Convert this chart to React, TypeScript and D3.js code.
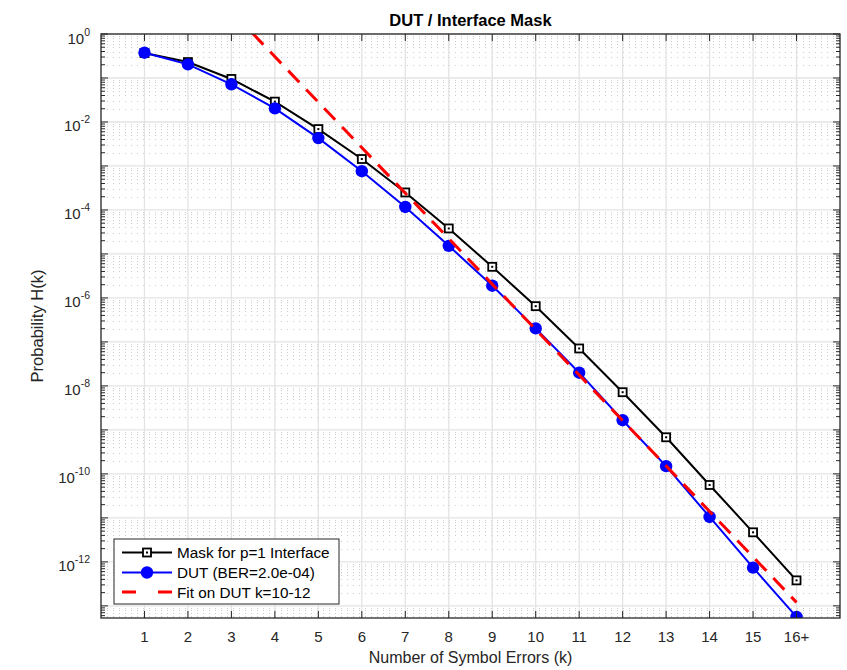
import React from 'react';
import * as d3 from 'd3';

// values
const kVals = [1, 2, 3, 4, 5, 6, 7, 8, 9, 10, 11, 12, 13, 14, 15, 16];
const kLabels = ['1', '2', '3', '4', '5', '6', '7', '8', '9', '10', '11', '12', '13', '14', '15', '16+'];
const maskVals = [0.37, 0.23, 0.095, 0.029, 0.0069, 1.44e-3, 2.5e-4, 3.8e-5, 5.1e-6, 6.5e-7, 7.1e-8, 7.2e-9, 6.8e-10, 5.6e-11, 4.7e-12, 3.8e-13];
const dutVals = [0.376, 0.204, 0.0718, 0.0204, 0.0043, 7.6e-4, 1.17e-4, 1.53e-5, 1.9e-6, 2.03e-7, 2.0e-8, 1.66e-9, 1.5e-10, 1.05e-11, 7.4e-13, 5.6e-14];
const fitK = [1, 16];
const fitVals = [385, 1.2e-13];
const yDecades = [0, -2, -4, -6, -8, -10, -12];
const legendNames = ['Mask for p=1 Interface', 'DUT (BER=2.0e-04)', 'Fit on DUT k=10-12'];

const width = 847;
const height = 670;
const margin = { top: 34, right: 7, bottom: 52, left: 101 };
const font = '"Liberation Sans", Arial, Helvetica, sans-serif';
const axisColor = '#262626';
const yMin = 5.3e-14;

export default function App() {
  const x = d3.scaleLinear().domain([0, 17]).range([margin.left, width - margin.right]);
  const y = d3.scaleLog().domain([yMin, 1]).range([height - margin.bottom, margin.top]);
  const [x0, x1] = x.range();
  const [yb, yt] = y.range();

  const line = d3
    .line<[number, number]>()
    .x(d => x(d[0]))
    .y(d => y(d[1]));

  const maskPts = kVals.map((k, i) => [k, maskVals[i]] as [number, number]);
  const dutPts = kVals.map((k, i) => [k, dutVals[i]] as [number, number]);
  const fitPts = fitK.map((k, i) => [k, fitVals[i]] as [number, number]);

  // log ticks: majors at every decade, minors 2..9
  const majors: number[] = [];
  const minors: number[] = [];
  for (let e = -14; e <= 0; e++) {
    for (let m = 1; m <= 9; m++) {
      const v = m * Math.pow(10, e);
      if (v < yMin || v > 1) continue;
      if (m === 1) majors.push(v);
      else minors.push(v);
    }
  }

  const legend = { x: 114, y: 539, w: 225, h: 65 };
  const rowY = [552.5, 572.5, 592];

  return (
    <svg
      width={width}
      height={height}
      style={{ position: 'absolute', left: 0, top: 0, background: '#fff' }}
      fontFamily={font}
    >
      <defs>
        <clipPath id="plot">
          <rect x={x0} y={yt} width={x1 - x0} height={yb - yt} />
        </clipPath>
      </defs>
      <rect x={x0} y={yt} width={x1 - x0} height={yb - yt} fill="#fff" />

      {/* minor grid */}
      <g stroke="#cccccc" strokeWidth={1} strokeDasharray="1,5">
        {minors.map((v, i) => (
          <line key={i} x1={x0} x2={x1} y1={Math.round(y(v)) + 0.5} y2={Math.round(y(v)) + 0.5} />
        ))}
      </g>
      {/* major grid */}
      <g stroke="#e3e3e3" strokeWidth={1.3}>
        {majors.map((v, i) => (
          <line key={i} x1={x0} x2={x1} y1={y(v)} y2={y(v)} />
        ))}
        {kVals.map(k => (
          <line key={k} x1={x(k)} x2={x(k)} y1={yt} y2={yb} />
        ))}
      </g>

      {/* series */}
      <g clipPath="url(#plot)">
        <path d={line(maskPts) || ''} fill="none" stroke="#000" strokeWidth={2} />
        {maskPts.map((d, i) => (
          <g key={i}>
            <rect x={x(d[0]) - 4} y={y(d[1]) - 4} width={8} height={8} fill="#fff" stroke="#000" strokeWidth={1.8} />
            <rect x={x(d[0]) - 1} y={y(d[1]) - 1} width={2} height={2} fill="#000" />
          </g>
        ))}
        <path d={line(dutPts) || ''} fill="none" stroke="#0000ff" strokeWidth={2} />
        {dutPts.map((d, i) => (
          <circle key={i} cx={x(d[0])} cy={y(d[1])} r={6.2} fill="#0000ff" />
        ))}
        <path d={line(fitPts) || ''} fill="none" stroke="#ff0000" strokeWidth={3} strokeDasharray="16,10" />
      </g>

      {/* axes box and ticks */}
      <g stroke={axisColor} strokeWidth={1} fill="none">
        <rect x={x0} y={yt} width={x1 - x0} height={yb - yt} strokeWidth={1.3} />
        {kVals.map(k => (
          <g key={k}>
            <line x1={x(k)} x2={x(k)} y1={yb} y2={yb - 7} />
            <line x1={x(k)} x2={x(k)} y1={yt} y2={yt + 7} />
          </g>
        ))}
        {majors.map((v, i) => (
          <g key={i}>
            <line x1={x0} x2={x0 + 7} y1={y(v)} y2={y(v)} />
            <line x1={x1} x2={x1 - 7} y1={y(v)} y2={y(v)} />
          </g>
        ))}
        {minors.map((v, i) => (
          <g key={i}>
            <line x1={x0} x2={x0 + 4} y1={y(v)} y2={y(v)} />
            <line x1={x1} x2={x1 - 4} y1={y(v)} y2={y(v)} />
          </g>
        ))}
      </g>

      {/* tick labels */}
      <g fill={axisColor} fontSize={15}>
        {kVals.map((k, i) => (
          <text key={k} x={x(k)} y={yb + 24} textAnchor="middle">
            {kLabels[i]}
          </text>
        ))}
        {yDecades.map(e => (
          <text key={e} x={x0 - 11} y={y(Math.pow(10, e)) + 9.5} textAnchor="end">
            <tspan>10</tspan>
            <tspan dy={-8} fontSize={10.5}>
              {e === 0 ? '0' : String(e)}
            </tspan>
          </text>
        ))}
      </g>

      {/* titles */}
      <text x={(x0 + x1) / 2} y={26} textAnchor="middle" fontSize={16.5} fontWeight="bold" fill="#000">
        DUT / Interface Mask
      </text>
      <text x={(x0 + x1) / 2} y={663} textAnchor="middle" fontSize={16} fill={axisColor}>
        Number of Symbol Errors (k)
      </text>
      <text
        transform={`translate(${43},${(yt + yb) / 2}) rotate(-90)`}
        textAnchor="middle"
        fontSize={16.5}
        fill={axisColor}
      >
        Probability H(k)
      </text>

      {/* legend */}
      <g>
        <rect x={legend.x} y={legend.y} width={legend.w} height={legend.h} fill="#fff" stroke={axisColor} strokeWidth={1} />
        <line x1={122} x2={172} y1={rowY[0]} y2={rowY[0]} stroke="#000" strokeWidth={2} />
        <rect x={143} y={rowY[0] - 4} width={8} height={8} fill="#fff" stroke="#000" strokeWidth={1.8} />
        <rect x={146} y={rowY[0] - 1} width={2} height={2} fill="#000" />
        <line x1={122} x2={172} y1={rowY[1]} y2={rowY[1]} stroke="#0000ff" strokeWidth={2} />
        <circle cx={147} cy={rowY[1]} r={6.2} fill="#0000ff" />
        <line x1={122} x2={172} y1={rowY[2]} y2={rowY[2]} stroke="#ff0000" strokeWidth={3} strokeDasharray="14,22" />
        {legendNames.map((n, i) => (
          <text key={n} x={177} y={rowY[i] + 5.5} fontSize={15.3} fill="#000">
            {n}
          </text>
        ))}
      </g>
    </svg>
  );
}
